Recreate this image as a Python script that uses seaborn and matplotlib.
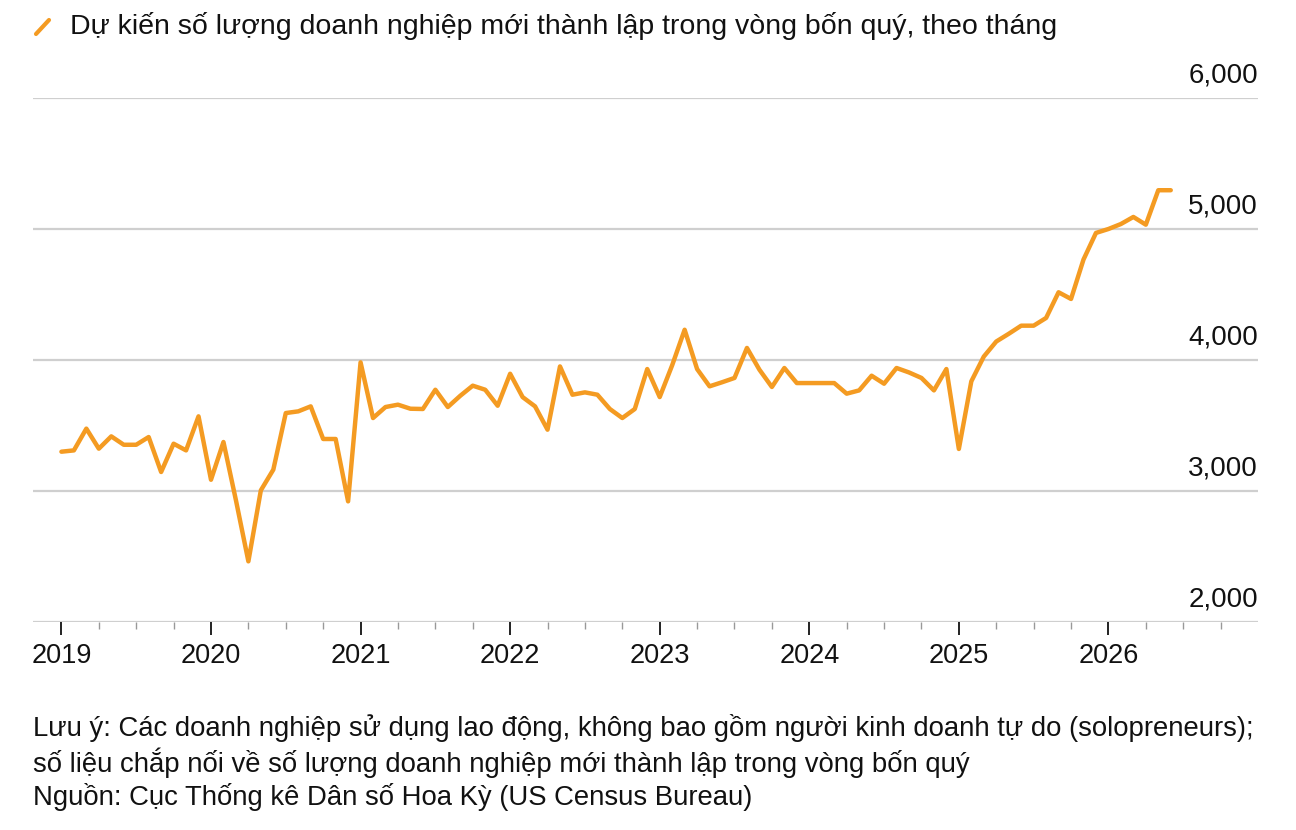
import numpy as np
import pandas as pd
import matplotlib
matplotlib.use('Agg')
import matplotlib.pyplot as plt
from matplotlib.lines import Line2D
from matplotlib.ticker import FixedLocator
import seaborn as sns

# Số doanh nghiệp mới dự kiến, theo tháng
v2019 = [3300, 3310, 3476, 3323, 3417, 3353, 3353, 3412, 3145, 3361, 3310, 3570]
v2020 = [3086, 3374, 2930, 2463, 3005, 3163, 3595, 3608, 3646, 3397, 3397, 2921]
v2021 = [3982, 3557, 3641, 3659, 3628, 3626, 3773, 3641, 3727, 3804, 3773, 3651]
v2022 = [3895, 3717, 3646, 3468, 3951, 3735, 3753, 3735, 3626, 3557, 3626, 3931]
v2023 = [3717, 3960, 4231, 3931, 3799, 3830, 3863, 4092, 3926, 3794, 3939, 3824]
v2024 = [3824, 3824, 3824, 3743, 3768, 3880, 3819, 3939, 3905, 3863, 3768, 3931]
v2025 = [3321, 3837, 4026, 4141, 4200, 4262, 4262, 4321, 4517, 4466, 4767, 4970]
v2026 = [5000, 5038, 5092, 5033, 5296, 5296]

years = [2019, 2020, 2021, 2022, 2023, 2024, 2025, 2026]
yticks = [2000, 3000, 4000, 5000, 6000]

title = 'Dự kiến số lượng doanh nghiệp mới thành lập trong vòng bốn quý, theo tháng'
note = ('Lưu ý: Các doanh nghiệp sử dụng lao động, không bao gồm người kinh doanh tự do (solopreneurs);\n'
        'số liệu chắp nối về số lượng doanh nghiệp mới thành lập trong vòng bốn quý\n'
        'Nguồn: Cục Thống kê Dân số Hoa Kỳ (US Census Bureau)')

values = v2019 + v2020 + v2021 + v2022 + v2023 + v2024 + v2025 + v2026
t = [2019 + i / 12 for i in range(len(values))]
df = pd.DataFrame({'t': t, 'v': values})

sns.set_style('white')
plt.rcParams['font.family'] = ['Liberation Sans', 'DejaVu Sans']

orange = '#F49B22'
grid_c = '#CFCFCF'
txt_c = '#111111'

fig = plt.figure(figsize=(12.96, 8.30), dpi=100)
ax = fig.add_axes([33 / 1296, 1 - 622 / 830, (1258 - 33) / 1296, (622 - 98) / 830])

for y in yticks:
    ax.axhline(y, color=grid_c, lw=1.6, zorder=1)
    ax.annotate(f'{y:,}', xy=(1, y), xycoords=('axes fraction', 'data'),
                xytext=(0, 16.5), textcoords='offset points',
                ha='right', va='center', fontsize=20, color=txt_c)

sns.lineplot(data=df, x='t', y='v', ax=ax, color=orange, lw=3.2, zorder=3)

ax.set_xlim(2018.81, 2027.0)
ax.set_ylim(2000, 6000)
ax.set_yticks([])
ax.set_xticks(years)
ax.set_xticklabels([str(y) for y in years], fontsize=19.5, color=txt_c)
# vạch phụ theo quý
quarters = [y + q / 4 for y in years for q in (1, 2, 3)]
ax.xaxis.set_minor_locator(FixedLocator(quarters))
ax.tick_params(axis='x', which='both', bottom=True, direction='out')
ax.tick_params(axis='x', which='major', length=9, width=1.4, color='#222222', pad=6)
ax.tick_params(axis='x', which='minor', length=5, width=1.0, color='#999999')
ax.set_xlabel('')
ax.set_ylabel('')
for s in ax.spines.values():
    s.set_visible(False)

# tiêu đề với ký hiệu đường
fig.add_artist(Line2D([36 / 1296, 49 / 1296], [1 - 34 / 830, 1 - 20 / 830],
                      color=orange, lw=3.0, transform=fig.transFigure))
fig.text(70 / 1296, 1 - 26 / 830, title, fontsize=20.5, color=txt_c, va='center', ha='left')

fig.text(33 / 1296, 1 - 714 / 830, note, fontsize=19.8, color=txt_c, va='top', ha='left',
         linespacing=1.22)

fig.savefig('out.png', dpi=100, facecolor='white')
